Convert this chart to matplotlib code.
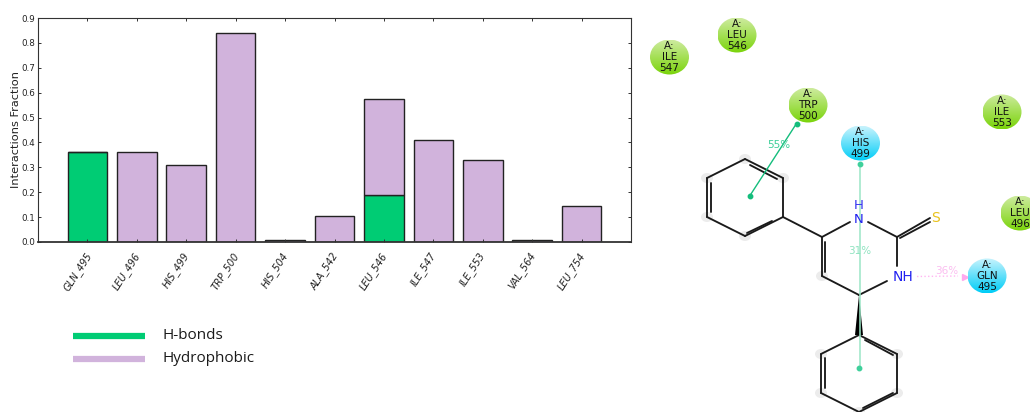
import numpy as np
import matplotlib
matplotlib.use("Agg")
import matplotlib.pyplot as plt
from matplotlib.patches import Ellipse, Polygon
from matplotlib.transforms import ScaledTranslation

residues = ["GLN_495", "LEU_496", "HIS_499", "TRP_500", "HIS_504", "ALA_542",
            "LEU_546", "ILE_547", "ILE_553", "VAL_564", "LEU_754"]
hbonds = [0.36, 0, 0, 0, 0, 0, 0.19, 0, 0, 0, 0]
hydrophobic = [0, 0.36, 0.31, 0.84, 0.01, 0.105, 0.385, 0.41, 0.33, 0.01, 0.145]
y_ticks = [0.0, 0.1, 0.2, 0.3, 0.4, 0.5, 0.6, 0.7, 0.8, 0.9]
legend_names = ["H-bonds", "Hydrophobic"]

GREEN = "#00cc74"
PURPLE = "#d1b3dc"
W, H = 1030, 412

# Residue bubbles of the interaction diagram: (label, x, y, kind)
bubbles = [("A:\nILE\n547", 669.5, 57, "g"), ("A:\nLEU\n546", 737, 35, "g"),
           ("A:\nTRP\n500", 808, 105, "g"), ("A:\nHIS\n499", 860.5, 143, "c"),
           ("A:\nILE\n553", 1002, 112, "g"), ("A:\nLEU\n496", 1020, 213, "g"),
           ("A:\nGLN\n495", 987, 276, "c")]
# Bonds of the ligand
single_bonds = [((745, 159), (783, 178)), ((783, 178), (783, 217)), ((783, 217), (745, 236)),
                ((745, 236), (707, 217)), ((707, 217), (707, 178)), ((707, 178), (745, 159)),
                ((783, 217), (822, 237)), ((822, 237), (850, 222)), ((868, 222), (897, 237)),
                ((897, 237), (897, 266)), ((887, 281), (859, 295)), ((859, 295), (822, 276)),
                ((822, 276), (822, 237)), ((897, 237), (930, 218)),
                ((859, 335), (897, 354)), ((897, 354), (897, 393)), ((897, 393), (859, 412)),
                ((859, 412), (821, 393)), ((821, 393), (821, 354)), ((821, 354), (859, 335))]
inner_bonds = [((750, 165), (777, 179)), ((711, 183), (711, 212)), ((747, 233), (772, 221)),
               ((825, 242), (825, 272)), ((900, 238), (930, 222)),
               ((865, 340), (893, 355)), ((825, 358), (825, 388)), ((863, 408), (893, 393))]
halos = [(745, 159), (783, 178), (707, 178), (707, 217), (745, 236), (822, 276),
         (897, 354), (897, 393), (821, 354), (821, 393), (859, 412)]

fig = plt.figure(figsize=(W / 100, H / 100), dpi=100)
ax = fig.add_axes([38 / W, 1 - 242 / H, (631 - 38) / W, (242 - 18) / H])
x = np.arange(len(residues))
ax.bar(x, hbonds, 0.8, color=GREEN, edgecolor="#222222", linewidth=1.0)
ax.bar(x, hydrophobic, 0.8, bottom=hbonds, color=PURPLE, edgecolor="#222222", linewidth=1.0)
ax.set_xlim(-1, 11)
ax.set_ylim(0, 0.9)
ax.set_yticks(y_ticks)
ax.set_xticks(x)
ax.set_xticklabels(residues, rotation=57, fontsize=7, style="italic", ha="center", color="#222222")
ax.tick_params(axis="both", direction="in", top=True, right=True, length=2.5, width=0.7, color="#333333")
ax.tick_params(axis="x", pad=6)
ax.tick_params(axis="y", labelsize=6.3, pad=2, labelcolor="#222222")
ax.set_ylabel("Interactions Fraction", fontsize=8.2, labelpad=0.5, color="#222222")
shift = ScaledTranslation(-10 / 100, 0, fig.dpi_scale_trans)
for lab in ax.get_xticklabels():
    lab.set_transform(lab.get_transform() + shift)
for side, s in ax.spines.items():
    s.set_linewidth(1.3 if side == "bottom" else 0.8)
    s.set_color("#333333")

# Overlay in pixel coordinates for the legend and the diagram
ov = fig.add_axes([0, 0, 1, 1])
ov.set_xlim(0, W)
ov.set_ylim(H, 0)
ov.axis("off")
ov.patch.set_alpha(0)

for name, col, yy in zip(legend_names, [GREEN, PURPLE], [336, 359]):
    ov.plot([73, 145], [yy, yy], color=col, lw=4.5, solid_capstyle="butt")
    ov.text(163, yy - 0.5, name, fontsize=11, family="Open Sans", va="center", color="#1a1a1a")

for cx, cy in halos:
    ov.add_patch(Ellipse((cx, cy), 12, 10, color="#e4e4e4", alpha=0.7, lw=0, zorder=1))

for a, b in single_bonds + inner_bonds:
    ov.plot([a[0], b[0]], [a[1], b[1]], color="#1a1a1a", lw=1.35, solid_capstyle="round", zorder=2)
ov.add_patch(Polygon([(859, 295), (855, 335), (863, 335)], color="black", lw=0, zorder=2))

# Interaction lines
ov.plot([750, 796.5], [195.5, 123.5], color="#14bd7c", lw=1.0, zorder=3)
ov.plot([750, 796.5], [195.5, 123.5], ls="none", marker="o", ms=3.2, color="#14bd7c", zorder=3)
ov.text(779, 145.5, "55%", fontsize=7.5, color="#3ccf98", ha="center", va="center", zorder=4)
ov.plot([860, 860], [164, 368], color="#9be6c6", lw=1.1, zorder=3)
ov.plot([860, 858.5], [164, 368], ls="none", marker="o", ms=3.2, color="#3fd09b", zorder=3)
ov.text(860, 251, "31%", fontsize=7.5, color="#8fe3c0", ha="center", va="center", zorder=4)
ov.plot([917, 958], [276.5, 276], color="#ffb6f2", lw=1.0, ls=":", zorder=3)
ov.plot([965], [276.5], marker=">", ms=4, color="#ffa9ee", ls="none", zorder=3)
ov.text(947, 271.5, "36%", fontsize=7.5, color="#fbbdf0", ha="center", va="center", zorder=4)

# Atom labels
ov.text(859, 205.5, "H", fontsize=9.5, color="#3535f0", ha="center", va="center", zorder=5)
ov.text(859, 219, "N", fontsize=9.5, color="#2020f0", ha="center", va="center", zorder=5)
ov.text(903, 277, "NH", fontsize=10, color="#2020f0", ha="center", va="center", zorder=5)
ov.text(936, 218, "S", fontsize=10, color="#e9c21c", ha="center", va="center", zorder=5)

# Gradient bubbles
ramps = {"g": ("#cdeb9e", "#7ad40a"), "c": ("#c8f3fd", "#00cdf7")}
to_rgb = matplotlib.colors.to_rgb
for label, cx, cy, kind in bubbles:
    rx, ry = 19.5, 17.5
    top, bottom = map(np.array, map(to_rgb, ramps[kind]))
    t = np.linspace(0, 1, 64)[:, None, None]
    img = (1 - t) * top[None, None, :] + t * bottom[None, None, :]
    im = ov.imshow(img, extent=(cx - rx, cx + rx, cy + ry, cy - ry), aspect="auto", zorder=6, interpolation="bilinear")
    clip = Ellipse((cx, cy), 2 * rx, 2 * ry, transform=ov.transData, fc="none", ec="none")
    ov.add_patch(clip)
    im.set_clip_path(clip)
    for line, dy in zip(label.split("\n"), (-11, 0, 11)):
        ov.text(cx, cy + dy, line, fontsize=7.5, color="#111111", ha="center", va="center", zorder=7, clip_on=True)
ov.set_xlim(0, W)
ov.set_ylim(H, 0)
ov.set_aspect("auto")

fig.savefig("out.png", dpi=100)
